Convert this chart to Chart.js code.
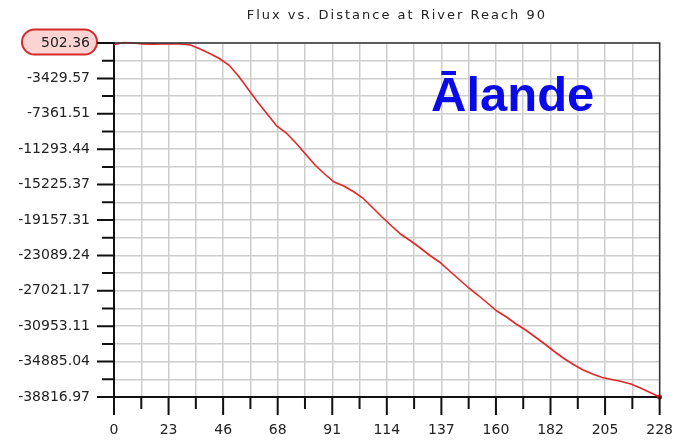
<!DOCTYPE html>
<html>
<head>
<meta charset="utf-8">
<script src="https://cdn.jsdelivr.net/npm/chart.js@4/dist/chart.umd.min.js"></script>
<style>
  html, body { margin: 0; padding: 0; background: #fff; }
  canvas { display: block; }
</style>
</head>
<body>
<canvas id="fluxChart" width="698" height="442"></canvas>
<script>
var chartTitle = "Flux vs. Distance at River Reach 90";
var stampText = "Ālande";

var xTickLabels = ['0', '23', '46', '68', '91', '114', '137', '160', '182', '205', '228'];
var yTickLabels = ['502.36', '-3429.57', '-7361.51', '-11293.44', '-15225.37', '-19157.31',
                   '-23089.24', '-27021.17', '-30953.11', '-34885.04', '-38816.97'];

// distance along the reach
var distance = [0, 4, 8, 12, 16, 20, 24, 28, 32, 36, 40, 44, 48, 52, 56, 60, 64, 68, 72, 76,
                80, 84, 88, 92, 96, 100, 104, 108, 112, 116, 120, 124, 128, 132, 136, 140, 144, 148, 152, 156,
                160, 164, 168, 172, 176, 180, 184, 188, 192, 196, 200, 204, 208, 212, 216, 220, 224, 228];

var flux = [336, 558, 502, 391, 380, 395, 388, 392, 280, -164, -664, -1219, -1941, -3163, -4607, -6051, -7384, -8716, -9494, -10605,
            -11826, -13048, -14048, -14937, -15381, -15992, -16714, -17769, -18824, -19824, -20768, -21490, -22267, -23100, -23822, -24766, -25710, -26655, -27488, -28376,
            -29265, -29931, -30709, -31375, -32153, -32930, -33763, -34541, -35207, -35818, -36262, -36651, -36873, -37095, -37373, -37817, -38316, -38817];

var xMax = parseFloat(xTickLabels[xTickLabels.length - 1]);
var yMax = parseFloat(yTickLabels[0]);
var yMin = parseFloat(yTickLabels[yTickLabels.length - 1]);

var tickFont = { family: 'DejaVu Sans', size: 14 };

var points = distance.map(function(d, i) {
    return { x: d, y: flux[i] };
});

// every labelled tick plus one unlabelled tick half way between
function xTicks() {
    var n = (xTickLabels.length - 1) * 2;
    var list = [];
    for (var i = 0; i <= n; i++) list.push({ value: i * xMax / n });
    return list;
}

function yTicks() {
    var n = (yTickLabels.length - 1) * 2;
    var list = [];
    for (var i = 0; i <= n; i++) list.push({ value: yMin + i * (yMax - yMin) / n });
    return list;
}

var chartDecor = {
    id: 'chartDecor',
    beforeDraw: function(chart) {
        var ctx = chart.ctx;
        ctx.save();
        ctx.fillStyle = '#ffffff';
        ctx.fillRect(0, 0, chart.width, chart.height);

        // pill round the top value
        var area = chart.chartArea;
        var yTop = chart.scales.y.getPixelForValue(yMax);
        var right = area.left - 17, left = right - 75, h = 25, r = h / 2;
        ctx.beginPath();
        ctx.moveTo(left + r, yTop - r - 1);
        ctx.lineTo(right - r, yTop - r - 1);
        ctx.arc(right - r, yTop - 1, r, -Math.PI / 2, Math.PI / 2);
        ctx.lineTo(left + r, yTop + r - 1);
        ctx.arc(left + r, yTop - 1, r, Math.PI / 2, Math.PI * 1.5);
        ctx.closePath();
        ctx.fillStyle = '#fbd3d3';
        ctx.fill();
        ctx.lineWidth = 2;
        ctx.strokeStyle = '#d42a2a';
        ctx.stroke();
        ctx.restore();
    },
    afterDraw: function(chart) {
        var ctx = chart.ctx;
        var area = chart.chartArea;
        var xs = chart.scales.x, ys = chart.scales.y;
        ctx.save();

        // frame top and right
        ctx.strokeStyle = '#333333';
        ctx.lineWidth = 1.5;
        ctx.beginPath();
        ctx.moveTo(area.left, area.top);
        ctx.lineTo(area.right, area.top);
        ctx.lineTo(area.right, area.bottom);
        ctx.stroke();

        // tick marks, long for labelled ticks, short between
        ctx.strokeStyle = '#111111';
        ctx.lineWidth = 2;
        ctx.beginPath();
        ys.ticks.forEach(function(t, i) {
            var y = ys.getPixelForValue(t.value);
            var len = i % 2 === 0 ? 17 : 12;
            ctx.moveTo(area.left - len, y);
            ctx.lineTo(area.left, y);
        });
        xs.ticks.forEach(function(t, i) {
            var x = xs.getPixelForValue(t.value);
            var len = i % 2 === 0 ? 18 : 12;
            ctx.moveTo(x, area.bottom);
            ctx.lineTo(x, area.bottom + len);
        });
        ctx.stroke();

        // title
        ctx.fillStyle = '#222222';
        ctx.font = '13px "DejaVu Sans"';
        ctx.letterSpacing = '2px';
        ctx.textAlign = 'center';
        ctx.textBaseline = 'middle';
        ctx.fillText(chartTitle, (area.left + area.right) / 2 + 10, 16);

        // stamp
        ctx.letterSpacing = '0px';
        ctx.fillStyle = '#0a0ae8';
        ctx.font = 'bold 49px "Liberation Sans"';
        ctx.textAlign = 'left';
        ctx.textBaseline = 'alphabetic';
        ctx.fillText(stampText, 431, 111);
        ctx.restore();
    }
};

var fluxChart = new Chart(document.getElementById('fluxChart').getContext('2d'), {
    type: 'line',
    data: {
        datasets: [{
            label: 'Flux',
            data: points,
            borderColor: '#e02828',
            borderWidth: 1.6,
            pointRadius: function(c) { return c.dataIndex === points.length - 1 ? 2.5 : 0; },
            pointBackgroundColor: '#d01010',
            pointBorderWidth: 0,
            tension: 0,
            clip: false
        }]
    },
    options: {
        responsive: false,
        animation: false,
        devicePixelRatio: 1,
        layout: { padding: { top: 43, right: 14, left: 0, bottom: 0 } },
        plugins: {
            legend: { display: false },
            title: { display: false },
            tooltip: { enabled: false }
        },
        scales: {
            x: {
                type: 'linear',
                min: 0,
                max: xMax,
                afterBuildTicks: function(scale) { scale.ticks = xTicks(); },
                afterFit: function(scale) { scale.height = 45; },
                ticks: {
                    autoSkip: false,
                    maxRotation: 0,
                    padding: 25,
                    color: '#222222',
                    font: tickFont,
                    callback: function(v, i) { return i % 2 === 0 ? xTickLabels[i / 2] : ''; }
                },
                grid: { color: '#cdcdcd', lineWidth: 1.5, drawTicks: false },
                border: { display: true, color: '#111111', width: 2 }
            },
            y: {
                type: 'linear',
                min: yMin,
                max: yMax,
                afterBuildTicks: function(scale) { scale.ticks = yTicks(); },
                afterFit: function(scale) { scale.width = 114; },
                ticks: {
                    autoSkip: false,
                    padding: 24,
                    color: '#222222',
                    font: tickFont,
                    callback: function(v, i) {
                        var n = yTickLabels.length - 1;
                        return i % 2 === 0 ? yTickLabels[n - i / 2] : '';
                    }
                },
                grid: { color: '#cdcdcd', lineWidth: 1.5, drawTicks: false },
                border: { display: true, color: '#111111', width: 2 }
            }
        }
    },
    plugins: [chartDecor]
});
</script>
</body>
</html>
